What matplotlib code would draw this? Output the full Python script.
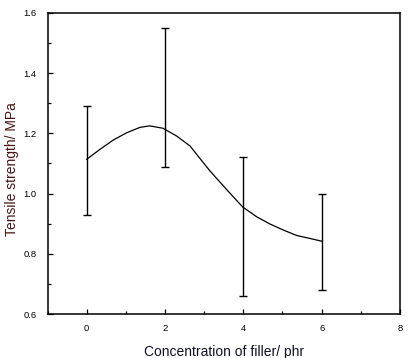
import matplotlib
matplotlib.use('Agg')
from matplotlib import pyplot as plt
from matplotlib.ticker import MultipleLocator

plt.rcParams['font.family'] = ['Liberation Sans', 'DejaVu Sans']

# measured points (mean with error bar limits)
filler = [0, 2, 4, 6]
strength_mean = [1.11, 1.32, 0.89, 0.84]
strength_low = [0.93, 1.09, 0.66, 0.68]
strength_high = [1.29, 1.55, 1.12, 1.00]

# smoothed curve
curve_x = [0, 0.34, 0.68, 1.02, 1.36, 1.61, 1.95, 2.30, 2.64, 2.89, 3.15,
           3.57, 3.98, 4.34, 4.68, 5.02, 5.36, 5.70, 6.0]
curve_y = [1.114, 1.147, 1.178, 1.202, 1.220, 1.225, 1.217, 1.191, 1.158,
           1.117, 1.075, 1.014, 0.956, 0.923, 0.899, 0.879, 0.861, 0.851, 0.842]

err_low = [m - l for m, l in zip(strength_mean, strength_low)]
err_high = [h - m for m, h in zip(strength_mean, strength_high)]

fig = plt.figure(figsize=(4.11, 3.58), dpi=100)
ax = fig.add_axes([0.1156, 0.1229, 0.8576, 0.8408])

ax.errorbar(filler, strength_mean, yerr=[err_low, err_high], fmt='none',
            ecolor='black', elinewidth=1.0, capsize=2.6, capthick=1.0)
ax.plot(curve_x, curve_y, color='black', linewidth=0.9)

ax.set_xlim(-1, 8)
ax.set_ylim(0.6, 1.6)
ax.xaxis.set_major_locator(MultipleLocator(2))
ax.xaxis.set_minor_locator(MultipleLocator(1))
ax.yaxis.set_major_locator(MultipleLocator(0.2))
ax.yaxis.set_minor_locator(MultipleLocator(0.1))
ax.yaxis.set_major_formatter(matplotlib.ticker.FormatStrFormatter('%.1f'))

ax.tick_params(which='both', direction='in', top=False, right=False,
               labelsize=6.8, width=0.9)
ax.tick_params(which='major', length=3.8)
ax.tick_params(which='minor', length=2.2)
ax.tick_params(axis='x', pad=7)
ax.tick_params(axis='y', pad=8)
for s in ax.spines.values():
    s.set_linewidth(1.1)

ax.set_xlabel('Concentration of filler/ phr', fontsize=10, color='#101028',
              labelpad=9)
ax.set_ylabel('Tensile strength/ MPa', fontsize=10, color='#4a1212')
ax.yaxis.set_label_coords(-0.08, 0.483)

fig.savefig('out.png', dpi=100)
